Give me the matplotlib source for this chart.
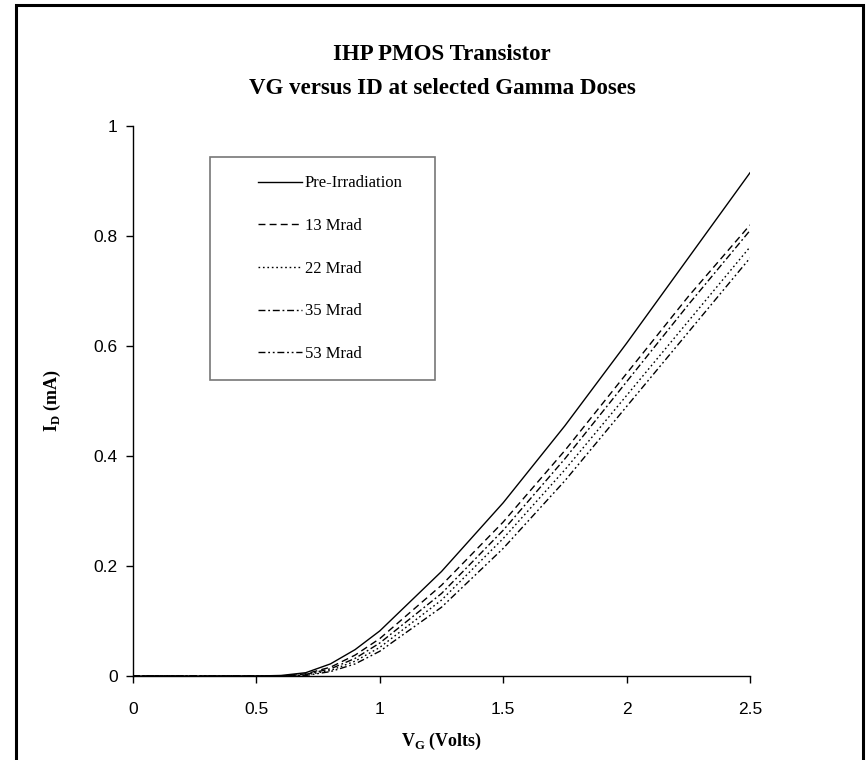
import numpy as np
import matplotlib
matplotlib.use("Agg")
import matplotlib.pyplot as plt
from matplotlib.patches import Rectangle

# gate voltage (V) and drain current (mA)
vg = [0, 0.3, 0.5, 0.6, 0.7, 0.8, 0.9, 1.0, 1.25, 1.5, 1.75, 2.0, 2.25, 2.5]
id_pre = [0, 0, 0, 0.001, 0.006, 0.022, 0.048, 0.082, 0.19, 0.315, 0.455, 0.605, 0.76, 0.915]
id_13 = [0, 0, 0, 0, 0.004, 0.016, 0.038, 0.068, 0.165, 0.28, 0.41, 0.55, 0.69, 0.82]
id_22 = [0, 0, 0, 0, 0.002, 0.010, 0.027, 0.052, 0.138, 0.25, 0.375, 0.51, 0.645, 0.78]
id_35 = [0, 0, 0, 0, 0.003, 0.013, 0.032, 0.060, 0.15, 0.265, 0.395, 0.535, 0.675, 0.81]
id_53 = [0, 0, 0, 0, 0.001, 0.008, 0.022, 0.045, 0.125, 0.232, 0.355, 0.49, 0.625, 0.76]

labels = ["Pre-Irradiation", "13 Mrad", "22 Mrad", "35 Mrad", "53 Mrad"]
xticks = [0, 0.5, 1, 1.5, 2, 2.5]
xtick_labels = ["0", "0.5", "1", "1.5", "2", "2.5"]
yticks = [0, 0.2, 0.4, 0.6, 0.8, 1]
ytick_labels = ["0", "0.2", "0.4", "0.6", "0.8", "1"]

W, H = 867, 760
fig = plt.figure(figsize=(W / 100, H / 100), dpi=100)
ax = fig.add_axes([133 / W, 84 / H, (750 - 133) / W, (676 - 126) / H])

styles = [
    dict(linestyle="-"),
    dict(linestyle=(0, (5, 3))),
    dict(linestyle=(0, (1.2, 2))),
    dict(linestyle=(0, (5, 2, 1.3, 2))),
    dict(linestyle=(0, (5, 2, 1.3, 2, 1.3, 2))),
]
series = [id_pre, id_13, id_22, id_35, id_53]
handles = []
for ys, lab, st in zip(series, labels, styles):
    h, = ax.plot(vg, ys, color="black", linewidth=1.0, label=lab, **st)
    handles.append(h)

ax.set_xlim(0, 2.5)
ax.set_ylim(0, 1)
ax.set_xticks(xticks)
ax.set_xticklabels(xtick_labels)
ax.set_yticks(yticks)
ax.set_yticklabels(ytick_labels)
for s in ["top", "right"]:
    ax.spines[s].set_visible(False)
for s in ["left", "bottom"]:
    ax.spines[s].set_linewidth(1.0)
ax.tick_params(direction="out", length=5, width=1, labelsize=12.5, pad=6)
for t in ax.get_xticklabels() + ax.get_yticklabels():
    t.set_family("Liberation Sans")
ax.tick_params(axis="x", pad=14)

serif_b = dict(family="Liberation Serif", weight="bold")
ax.set_xlabel(r"V$_\mathregular{G}$ (Volts)", fontsize=13, labelpad=10, **serif_b)
ax.set_ylabel(r"I$_\mathregular{D}$ (mA)", fontsize=13, labelpad=22, **serif_b)

fig.text(442 / W, 1 - 55 / H, "IHP PMOS Transistor", ha="center", va="center",
         fontsize=16.5, **serif_b)
fig.text(442 / W, 1 - 88 / H, "VG versus ID at selected Gamma Doses", ha="center",
         va="center", fontsize=16.5, **serif_b)

# legend (frame drawn separately as a plain box)
leg = ax.legend(handles=handles, loc="upper left", frameon=False,
                bbox_to_anchor=(250 / W, 1 - 167 / H), bbox_transform=fig.transFigure,
                prop=dict(family="Liberation Serif", size=12), borderpad=0,
                handlelength=2.6, handletextpad=0.2, labelspacing=1.6)
fig.patches.append(Rectangle((210 / W, 1 - 380 / H), 225 / W, 223 / H,
                             transform=fig.transFigure, fill=False,
                             edgecolor="#777777", linewidth=1.2))

# outer chart border
fig.patches.append(Rectangle((16 / W, -0.01), (863 - 16) / W, 1 - 5 / H + 0.01,
                             transform=fig.transFigure, fill=False,
                             edgecolor="black", linewidth=2.2))

fig.savefig("out.png", dpi=100)
